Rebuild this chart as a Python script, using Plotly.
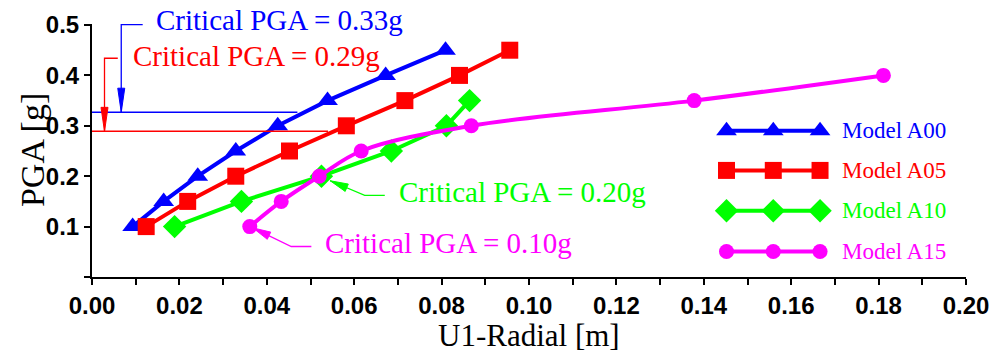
import plotly.graph_objects as go
import math

# ---------------- data ----------------
pga_a00 = [0.10, 0.15, 0.20, 0.25, 0.30, 0.35, 0.40, 0.45]
u1_a00 = [0.0093, 0.0164, 0.0242, 0.0329, 0.0425, 0.0539, 0.0672, 0.0809]

pga_a05 = [0.10, 0.15, 0.20, 0.25, 0.30, 0.35, 0.40, 0.45]
u1_a05 = [0.0124, 0.0219, 0.0329, 0.0452, 0.0582, 0.0716, 0.0841, 0.0956]

pga_a10 = [0.10, 0.15, 0.20, 0.25, 0.30, 0.35]
u1_a10 = [0.0189, 0.0342, 0.0525, 0.0685, 0.0811, 0.0864]

pga_a15 = [0.10, 0.15, 0.20, 0.25, 0.30, 0.35, 0.40]
u1_a15 = [0.0361, 0.0433, 0.0520, 0.0616, 0.0868, 0.1378, 0.1811]

series_names = ["Model A00", "Model A05", "Model A10", "Model A15"]
critical_pga = [0.327, 0.289, 0.20, 0.10]
critical_labels = ["Critical PGA = 0.33g", "Critical PGA = 0.29g",
                   "Critical PGA = 0.20g", "Critical PGA = 0.10g"]

x_ticks = [0.00, 0.02, 0.04, 0.06, 0.08, 0.10, 0.12, 0.14, 0.16, 0.18, 0.20]
y_ticks = [0.0, 0.1, 0.2, 0.3, 0.4, 0.5]

BLUE, RED, GREEN, MAGENTA = "#0000FF", "#FF0000", "#00FF00", "#FF00FF"
SERIF = "Liberation Serif, Times New Roman, serif"
SANS = "Liberation Sans, Arial, sans-serif"

XR = [0, 0.2]
YR = [0, 0.502]
ML, MR, MT, MB = 92, 28, 24, 79
W, H = 994, 356
KX = (W - ML - MR) / (XR[1] - XR[0])   # px per x-unit
KY = (H - MT - MB) / (YR[1] - YR[0])   # px per y-unit


def py_paper(y):
    return (y - YR[0]) / (YR[1] - YR[0])


fig = go.Figure()

styles = [
    (u1_a00, pga_a00, BLUE, "triangle-up", 18, "linear"),
    (u1_a05, pga_a05, RED, "square", 17, "linear"),
    (u1_a10, pga_a10, GREEN, "diamond", 18, "linear"),
    (u1_a15, pga_a15, MAGENTA, "circle", 15, "spline"),
]
for (xs, ys, col, sym, sz, shp), name in zip(styles, series_names):
    fig.add_trace(go.Scatter(
        x=xs, y=ys, mode="lines+markers", name=name, showlegend=False,
        line=dict(color=col, width=4, shape=shp),
        marker=dict(symbol=sym, size=sz, color=col),
        cliponaxis=False))

# ---------------- custom legend ----------------
leg_x = [0.1452, 0.1559, 0.1666]
leg_y = [0.290, 0.2115, 0.1315, 0.0505]
leg_text_x = 0.1711
for (xs, ys, col, sym, sz, shp), name, ly in zip(styles, series_names, leg_y):
    fig.add_trace(go.Scatter(
        x=leg_x, y=[ly] * 3, mode="lines+markers", showlegend=False,
        line=dict(color=col, width=4),
        marker=dict(symbol=sym, size=sz, color=col), hoverinfo="skip",
        cliponaxis=False))
    fig.add_annotation(x=leg_text_x, y=ly, xref="x", yref="y", text=name,
                       showarrow=False, xanchor="left", yanchor="middle",
                       font=dict(family=SERIF, size=23, color=col))

# ---------------- critical annotations ----------------
shapes = []


def polyline(pts, col):
    path = "M " + " L ".join(f"{x},{y}" for x, y in pts)
    shapes.append(dict(type="path", xref="x", yref="y", path=path,
                       line=dict(color=col, width=1.3)))


def head(tail, tip, col, length=24, width=7):
    dxp = (tip[0] - tail[0]) * KX
    dyp = (tip[1] - tail[1]) * KY
    n = math.hypot(dxp, dyp)
    ux, uy = dxp / n, dyp / n
    bx, by = -ux * length, -uy * length
    px, py = -uy * width / 2, ux * width / 2
    p1 = (tip[0] + (bx + px) / KX, tip[1] + (by + py) / KY)
    p2 = (tip[0] + (bx - px) / KX, tip[1] + (by - py) / KY)
    path = f"M {tip[0]},{tip[1]} L {p1[0]},{p1[1]} L {p2[0]},{p2[1]} Z"
    shapes.append(dict(type="path", xref="x", yref="y", path=path,
                       fillcolor=col, line=dict(color=col, width=1)))


# horizontal critical lines
shapes.append(dict(type="line", xref="x", yref="y", x0=0, x1=0.047,
                   y0=critical_pga[0], y1=critical_pga[0],
                   line=dict(color=BLUE, width=1.5)))
shapes.append(dict(type="line", xref="x", yref="y", x0=0, x1=0.054,
                   y0=critical_pga[1], y1=critical_pga[1],
                   line=dict(color=RED, width=1.5)))

# blue leader
polyline([(0.0116, 0.501), (0.00669, 0.501), (0.00669, critical_pga[0])], BLUE)
head((0.00669, 0.501), (0.00669, critical_pga[0]), BLUE)
# red leader
polyline([(0.0059, 0.434), (0.00286, 0.434), (0.00286, critical_pga[1])], RED)
head((0.00286, 0.434), (0.00286, critical_pga[1]), RED)
# green leader
polyline([(0.067, 0.162), (0.0624, 0.162), (0.0545, 0.191)], GREEN)
head((0.0624, 0.162), (0.0545, 0.191), GREEN, length=18, width=8)
# magenta leader
polyline([(0.0502, 0.0605), (0.0456, 0.0605), (0.0368, 0.0975)], MAGENTA)
head((0.0456, 0.0605), (0.0368, 0.0975), MAGENTA, length=18, width=8)

label_pos = [(0.0143, 0.510), (0.0090, 0.438), (0.0697, 0.168), (0.0528, 0.068)]
label_cols = [BLUE, RED, GREEN, MAGENTA]
for (lx, ly), txt, col in zip(label_pos, critical_labels, label_cols):
    fig.add_annotation(x=lx, y=py_paper(ly), xref="x", yref="paper", text=txt,
                       showarrow=False, xanchor="left", yanchor="middle",
                       font=dict(family=SERIF, size=29, color=col))

# axis titles
fig.add_annotation(x=0.5, y=-0.232, xref="paper", yref="paper",
                   text="U1-Radial [m]", showarrow=False,
                   xanchor="center", yanchor="middle",
                   font=dict(family=SERIF, size=31, color="black"))
fig.add_annotation(x=-0.068, y=0.5, xref="paper", yref="paper",
                   text="PGA [g]", showarrow=False, textangle=-90,
                   xanchor="center", yanchor="middle",
                   font=dict(family=SERIF, size=34, color="black"))

fig.update_layout(
    width=W, height=H,
    margin=dict(l=ML, r=MR, t=MT, b=MB, autoexpand=False),
    paper_bgcolor="white", plot_bgcolor="white",
    shapes=shapes,
    showlegend=False,
    xaxis=dict(
        range=XR, tickvals=x_ticks, ticktext=[f"{v:.2f}" for v in x_ticks],
        ticks="outside", ticklen=6, tickwidth=2, tickcolor="black",
        minor=dict(dtick=0.01, ticks="outside", ticklen=6, tickwidth=2,
                   tickcolor="black"),
        showline=True, linewidth=2, linecolor="black",
        showgrid=False, zeroline=False, automargin=False,
        tickfont=dict(family=SANS, size=24, color="black", weight="bold"),
    ),
    yaxis=dict(
        range=YR, tickvals=y_ticks,
        ticktext=["" if v == 0 else f"{v:.1f}" for v in y_ticks],
        ticks="outside", ticklen=6, tickwidth=2, tickcolor="black",
        showline=True, linewidth=2, linecolor="black",
        showgrid=False, zeroline=False, automargin=False,
        tickfont=dict(family=SANS, size=24, color="black", weight="bold"),
    ),
)

fig.write_html("out.html",
               config={"displayModeBar": False},
               post_script="document.body.style.margin='0';"
                           "document.body.style.overflow='hidden';")
